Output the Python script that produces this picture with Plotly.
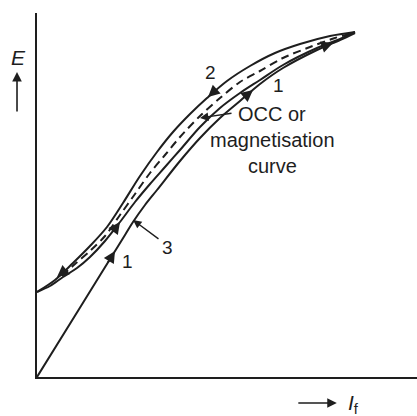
import plotly.graph_objects as go

# Field current (x) and EMF (y) readings for each branch of the loop
upper_x = [0, 18, 36, 53, 70, 86, 103, 120, 136, 153, 170, 190, 213, 238, 263, 293, 318]
upper_y = [85, 97, 114, 131, 150, 174, 201, 225, 245, 263, 279, 296, 311, 324, 333, 341, 345]

rise3_x = [0, 13, 26, 40, 53, 68, 83, 98, 113, 128, 143, 163, 183, 203, 223, 246, 280, 303, 318]
rise3_y = [85, 91, 100, 109, 120, 136, 155, 175, 193, 210, 227, 250, 269, 284, 297, 312, 329, 338, 345]

occ_x = [25, 38, 53, 68, 83, 98, 113, 128, 143, 163, 183, 203, 223, 246, 273, 298, 313]
occ_y = [101, 113, 126, 141, 162, 183, 204, 222, 240, 261, 279, 295, 306, 319, 330, 339, 343]

init_x = [0, 44, 88, 96, 108, 120, 143, 163, 183, 203, 223, 246, 280, 303, 318]
init_y = [0, 71, 142, 155, 172, 187, 216, 239, 259, 276, 293, 309, 327, 337, 344]

INK = "#1e1e1e"
FONT = "Liberation Sans, Arial, sans-serif"

fig = go.Figure()
for xs, ys, dash in [(upper_x, upper_y, "solid"), (rise3_x, rise3_y, "solid"),
                     (occ_x, occ_y, "8px,5px"), (init_x, init_y, "solid")]:
    fig.add_trace(go.Scatter(x=xs, y=ys, mode="lines",
                             line=dict(color=INK, width=2, dash=dash, shape="spline", smoothing=0.9),
                             hoverinfo="skip", showlegend=False))

anns = []
def head(x, y, ax, ay, size=1.3):
    anns.append(dict(x=x, y=y, ax=ax, ay=ay, xref="x", yref="y", axref="x", ayref="y",
                     text="", showarrow=True, arrowhead=2, arrowsize=size, arrowwidth=1.8,
                     arrowcolor=INK, standoff=0))

head(171, 280, 181, 289)   # curve 2 descending
head(20, 100, 30, 108)     # curve 2 near remanence
head(216, 287, 205, 278)   # curve 1 upper
head(78, 126, 70, 113)     # curve 1 lower
head(83, 155, 75, 144)     # curve 3
head(296, 334, 285, 330)   # near tip

# pointers
anns.append(dict(x=163, y=259, ax=196, ay=264, xref="x", yref="y", axref="x", ayref="y",
                 text="", showarrow=True, arrowhead=2, arrowsize=1.2, arrowwidth=1.4, arrowcolor=INK))
anns.append(dict(x=96, y=157, ax=123, ay=137, xref="x", yref="y", axref="x", ayref="y",
                 text="", showarrow=True, arrowhead=2, arrowsize=1.2, arrowwidth=1.4, arrowcolor=INK))
# axis direction arrows (paper coordinates, outside plot area)
anns.append(dict(x=-0.0526, y=0.838, ax=0, ay=41, xref="paper", yref="paper",
                 text="", showarrow=True, arrowhead=2, arrowsize=1.2, arrowwidth=1.6, arrowcolor=INK))
anns.append(dict(x=0.789, y=-0.0714, ax=-40, ay=0, xref="paper", yref="paper",
                 text="", showarrow=True, arrowhead=2, arrowsize=1.2, arrowwidth=1.6, arrowcolor=INK))

def label(x, y, t, size=20, italic=False, ref="x"):
    anns.append(dict(x=x, y=y, xref="x" if ref == "x" else "paper",
                     yref="y" if ref == "x" else "paper", text=t, showarrow=False,
                     font=dict(family=FONT, size=size, color=INK,
                               style="italic" if italic else "normal"),
                     xanchor="center", yanchor="middle"))

label(173, 305, "2", 19)
label(241, 292, "1", 19)
label(90, 116, "1", 19)
label(130, 130, "3", 19)
label(235, 263, "OCC or", 20)
label(235, 237, "magnetisation", 20)
label(235, 211, "curve", 20)
label(-0.0474, 0.879, "E", 21, italic=True, ref="paper")
label(0.832, -0.074, "<i>I</i><sub>f</sub>", 21, ref="paper")

fig.update_layout(
    width=417, height=416,
    margin=dict(l=37, r=0, t=13, b=39),
    paper_bgcolor="white", plot_bgcolor="white",
    xaxis=dict(range=[0, 380], showgrid=False, zeroline=False, showticklabels=False, ticks="",
               showline=True, linecolor=INK, linewidth=2),
    yaxis=dict(range=[0, 364], showgrid=False, zeroline=False, showticklabels=False, ticks="",
               showline=True, linecolor=INK, linewidth=2),
    annotations=anns,
    showlegend=False,
)

fig.write_html("out.html")
